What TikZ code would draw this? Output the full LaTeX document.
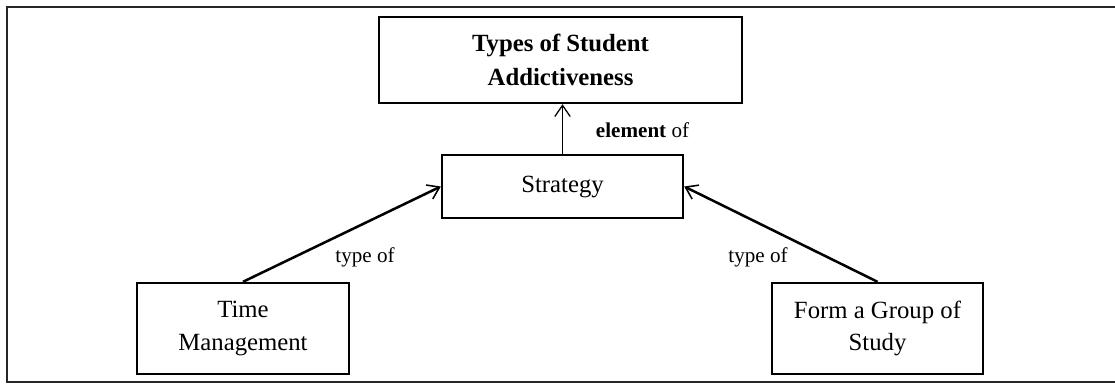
\documentclass[tikz,border=0pt]{standalone}
\usepackage{fontspec}
\setmainfont{Liberation Serif}
\usepackage{tikz}
\usetikzlibrary{arrows.meta,positioning}

\tikzset{
  conceptbox/.style={draw,line width=1.7pt,align=center,inner sep=0pt,
    font=\fontsize{17.6}{23}\selectfont},
  typearrow/.style={-{Straight Barb[length=8pt,width=11pt,line width=1.1pt]},line width=1.8pt},
  elemarrow/.style={-{Straight Barb[length=8pt,width=11pt,line width=0.9pt]},line width=0.6pt},
  linklabel/.style={font=\fontsize{15}{18}\selectfont}
}

\begin{document}
\begin{tikzpicture}[x=0.025cm,y=-0.025cm]
\useasboundingbox (0,0) rectangle (1115,383);
% frame, open on the right
\draw[line width=2pt,black!85] (1115,7)--(7,7)--(7,382)--(1115,382);
% boxes
\node[conceptbox,minimum width=363*0.7113pt,minimum height=86*0.7113pt,font=\fontsize{17.6}{24}\selectfont\bfseries] (types) at (560.5,60) {Types of Student\\Addictiveness};
\node[conceptbox,minimum width=241*0.7113pt,minimum height=63*0.7113pt] (strategy) at (562.5,186.5) {Strategy};
\node[conceptbox,minimum width=212*0.7113pt,minimum height=91*0.7113pt] (time) at (243,328.5) {Time\\Management};
\node[conceptbox,minimum width=211*0.7113pt,minimum height=91*0.7113pt] (group) at (877.5,328.5) {Form a Group of\\Study};
% links
\draw[elemarrow] (strategy.north) -- (strategy.north |- types.south);
\draw[typearrow] (time.north) -- (strategy.west);
\draw[typearrow] (group.north) -- (strategy.east);
\node[linklabel,anchor=west] (elemlbl) at (591,130) {\textbf{element} of};
\node[linklabel] (typelbl1) at (365,257) {type of};
\node[linklabel] (typelbl2) at (758,257) {type of};
\end{tikzpicture}
\end{document}
